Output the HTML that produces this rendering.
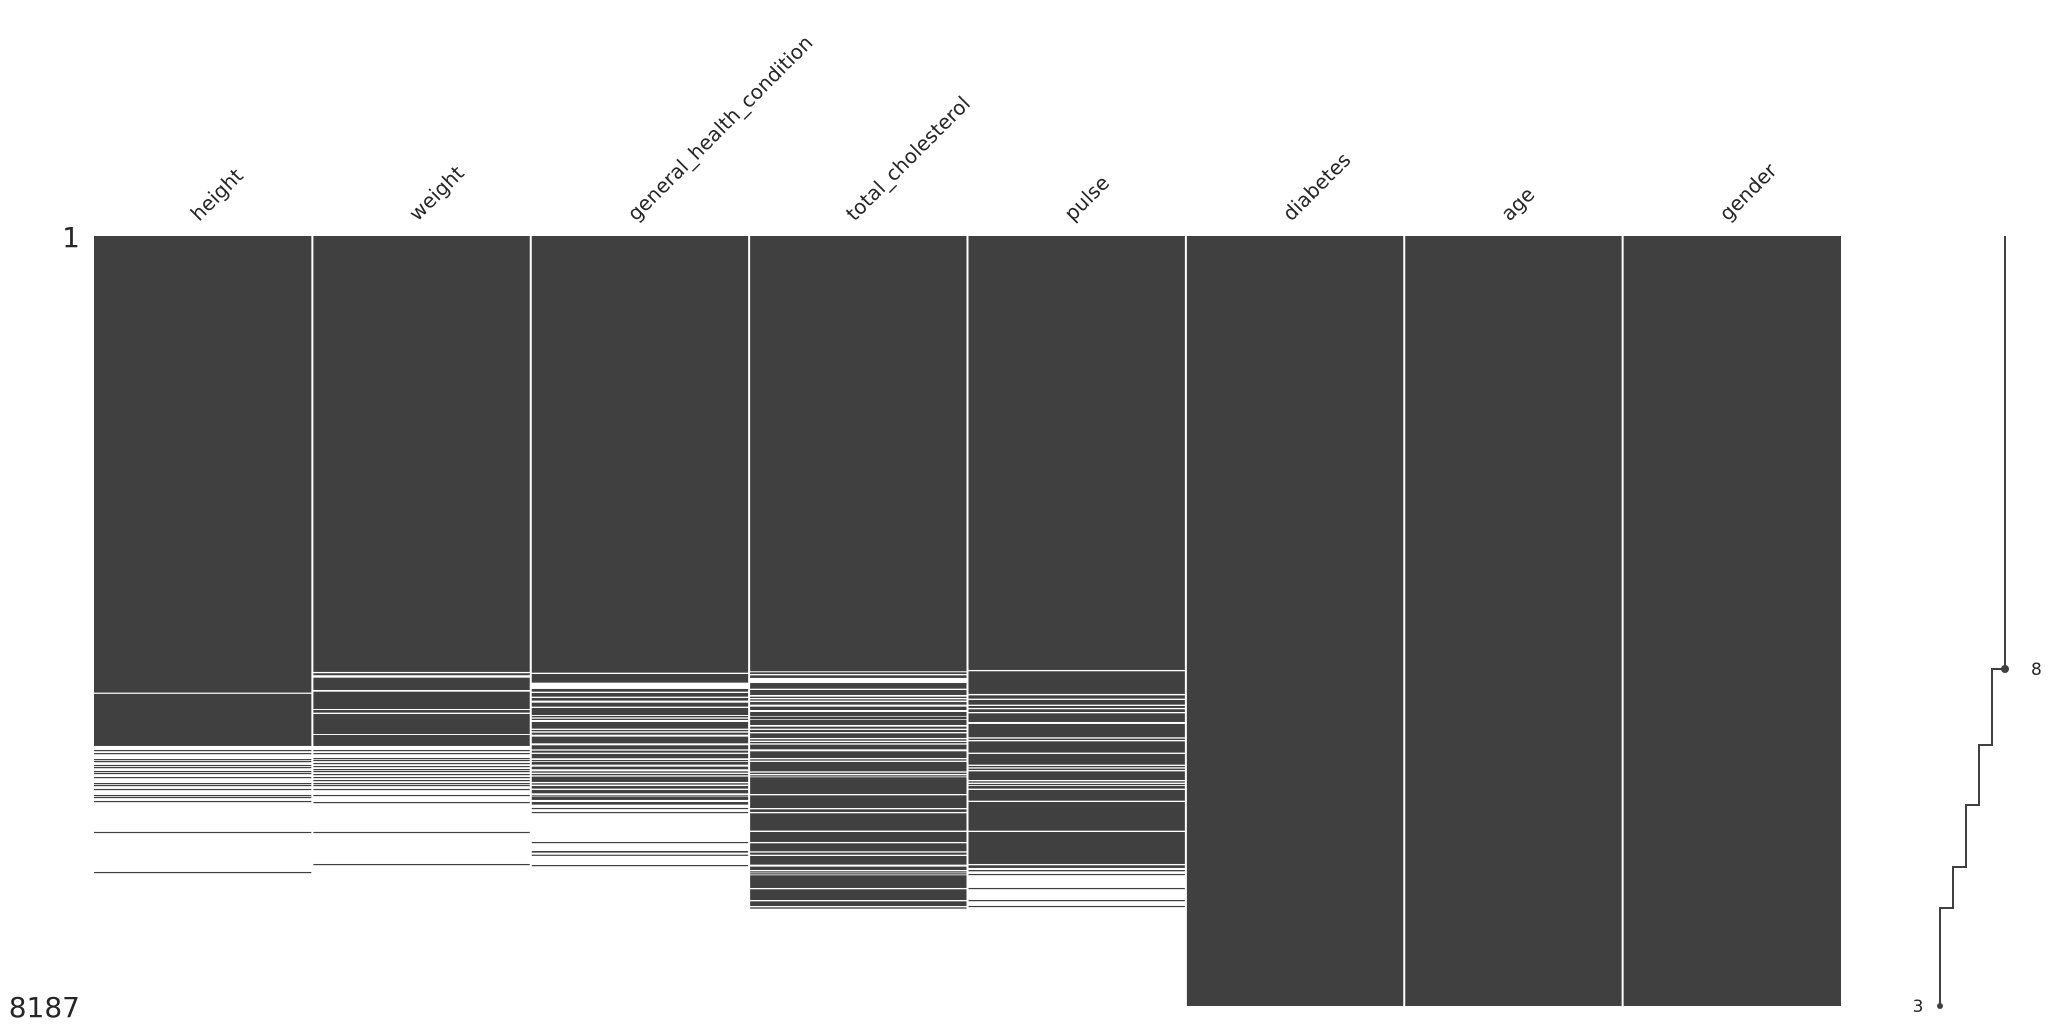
<!DOCTYPE html>
<html><head><meta charset="utf-8"><style>
html,body{margin:0;padding:0;background:#fff;}
svg{display:block;font-family:"DejaVu Sans","Liberation Sans",sans-serif;}
</style></head><body>
<svg id="chart" width="2053" height="1033" viewBox="0 0 2053 1033" xmlns="http://www.w3.org/2000/svg">
<g id="matrix"></g>
<g id="labels"></g>
<text x="80" y="247" font-size="28" text-anchor="end" fill="#262626">1</text>
<text x="80" y="1017" font-size="28" text-anchor="end" fill="#262626">8187</text>
<g id="spark"></g>
</svg>
<script>
const columns = ["height","weight","general_health_condition","total_cholesterol","pulse","diabetes","age","gender"];
const totalRows = 8187;
const presentHeight = [[0,4855],[4868,5422],[5465,5477],[5497,5509],[5561,5573],[5582,5594],[5624,5636],[5646,5658],[5688,5700],[5709,5721],[5752,5764],[5816,5828],[5837,5849],[5879,5891],[5943,5955],[5964,5976],[6007,6019],[6336,6348],[6762,6774]];
const presentWeight = [[0,4635],[4649,4670],[4696,4827],[4845,5029],[5040,5068],[5082,5295],[5305,5422],[5465,5477],[5497,5509],[5550,5562],[5571,5583],[5603,5615],[5635,5647],[5667,5679],[5688,5700],[5720,5732],[5752,5764],[5784,5796],[5816,5828],[5837,5849],[5879,5891],[5943,5955],[6018,6030],[6336,6348],[6677,6689]];
const presentGeneral = [[0,4643],[4657,4749],[4816,4845],[4859,4898],[4912,4940],[4962,5004],[5018,5093],[5103,5118],[5132,5146],[5167,5238],[5252,5266],[5281,5302],[5323,5394],[5415,5458],[5472,5493],[5507,5553],[5571,5582],[5592,5621],[5642,5670],[5692,5706],[5720,5734],[5748,5805],[5819,5833],[5848,5876],[5890,5926],[5947,5954],[5965,5996],[6018,6046],[6081,6089],[6124,6131],[6443,6450],[6539,6556],[6578,6585],[6688,6695]];
const presentCholesterol = [[0,4628],[4639,4657],[4671,4699],[4753,4813],[4827,4880],[4898,4912],[4926,4940],[4955,4983],[5004,5040],[5061,5103],[5110,5139],[5146,5199],[5217,5238],[5252,5274],[5288,5337],[5351,5366],[5380,5394],[5408,5458],[5479,5550],[5564,5578],[5592,5692],[5706,5720],[5734,5741],[5755,5933],[5947,6082],[6096,6124],[6138,6322],[6337,6443],[6457,6542],[6556,6578],[6592,6684],[6705,6741],[6755,6762],[6776,6783],[6797,6932],[6946,7060],[7074,7124],[7138,7152]];
const presentPulse = [[0,4614],[4628,4869],[4884,4919],[4933,4983],[4997,5018],[5032,5061],[5075,5167],[5188,5330],[5344,5359],[5373,5493],[5507,5621],[5635,5649],[5663,5678],[5692,5784],[5798,5812],[5826,5833],[5848,5876],[5890,6004],[6018,6323],[6337,6677],[6691,6719],[6741,6755],[6783,6790],[6932,6939],[7060,7067],[7123,7130]];
const presentFull = [[0,8187]];
const sparkBreakRows = [0,4604,5412,6050,6709,7145,8187];
const sparkValues = [8,7,6,5,4,3];
const sparkMax = 8, sparkMin = 3;

const NS = "http://www.w3.org/2000/svg";
const plotLeft = 94, plotRight = 1841, plotTop = 236, plotBottom = 1006;
const colW = (plotRight-plotLeft)/columns.length;
function yScale(r){ return plotTop + r/totalRows*(plotBottom-plotTop); }
function xCol(i){ return plotLeft + i*colW; }
const allPresent = [presentHeight,presentWeight,presentGeneral,presentCholesterol,presentPulse,presentFull,presentFull,presentFull];

const m = document.getElementById('matrix');
allPresent.forEach((segs,i)=>{
  segs.forEach(s=>{
    const r = document.createElementNS(NS,'rect');
    
    
    const y0 = yScale(s[0]), y1 = yScale(s[1]);
    r.setAttribute('x',xCol(i)); r.setAttribute('y',y0);
    r.setAttribute('width',colW); r.setAttribute('height',Math.max(1.2,y1-y0));
    r.setAttribute('fill','#404040');
    m.appendChild(r);
  });
});
for(let i=1;i<columns.length;i++){
  const l = document.createElementNS(NS,'line');
  
  
  l.setAttribute('x1',xCol(i)); l.setAttribute('x2',xCol(i));
  l.setAttribute('y1',plotTop); l.setAttribute('y2',plotBottom);
  l.setAttribute('stroke','#fff'); l.setAttribute('stroke-width','2');
  m.appendChild(l);
}
const lab = document.getElementById('labels');
columns.forEach((c,i)=>{
  const t = document.createElementNS(NS,'text');
  
  
  const cx = xCol(i)+colW/2 - 4, cy = 222;
  t.setAttribute('x',cx); t.setAttribute('y',cy);
  t.setAttribute('transform','rotate(-45 '+cx+' '+cy+')');
  t.setAttribute('font-size','20'); t.setAttribute('fill','#262626');
  t.textContent = c;
  lab.appendChild(t);
});
const sp = document.getElementById('spark');
const sx0 = 1940, sx1 = 2005;
function xSpark(v){ return sx0 + (v-sparkMin)/(sparkMax-sparkMin)*(sx1-sx0); }
let d = '';
sparkValues.forEach((v,i)=>{
  const x = xSpark(v), ya = yScale(sparkBreakRows[i]), yb = yScale(sparkBreakRows[i+1]);
  d += (i===0?'M':'L')+x+' '+ya+' L'+x+' '+yb+' ';
});
const p = document.createElementNS(NS,'path');


p.setAttribute('d',d); p.setAttribute('fill','none');
p.setAttribute('stroke','#404040'); p.setAttribute('stroke-width','2');
sp.appendChild(p);
const maxIdx = sparkValues.indexOf(Math.max(...sparkValues));
const minIdx = sparkValues.lastIndexOf(Math.min(...sparkValues));
const dot = document.createElementNS(NS,'circle');


dot.setAttribute('cx',xSpark(sparkValues[maxIdx])); dot.setAttribute('cy',yScale(sparkBreakRows[maxIdx+1]));
dot.setAttribute('r','4'); dot.setAttribute('fill','#404040');
sp.appendChild(dot);
const dot2 = document.createElementNS(NS,'circle');


dot2.setAttribute('cx',xSpark(sparkValues[minIdx])); dot2.setAttribute('cy',yScale(sparkBreakRows[minIdx+1]));
dot2.setAttribute('r','3'); dot2.setAttribute('fill','#404040');
sp.appendChild(dot2);
const t8 = document.createElementNS(NS,'text');


t8.setAttribute('x',xSpark(sparkValues[maxIdx])+26); t8.setAttribute('y',yScale(sparkBreakRows[maxIdx+1])+6);
t8.setAttribute('font-size','17'); t8.setAttribute('fill','#262626');
t8.textContent = sparkValues[maxIdx];
sp.appendChild(t8);
const t3 = document.createElementNS(NS,'text');


t3.setAttribute('x',xSpark(sparkValues[minIdx])-22); t3.setAttribute('y',yScale(sparkBreakRows[minIdx+1])+6);
t3.setAttribute('font-size','17'); t3.setAttribute('fill','#262626');
t3.setAttribute('text-anchor','middle');
t3.textContent = sparkValues[minIdx];
sp.appendChild(t3);
</script>
</body></html>
